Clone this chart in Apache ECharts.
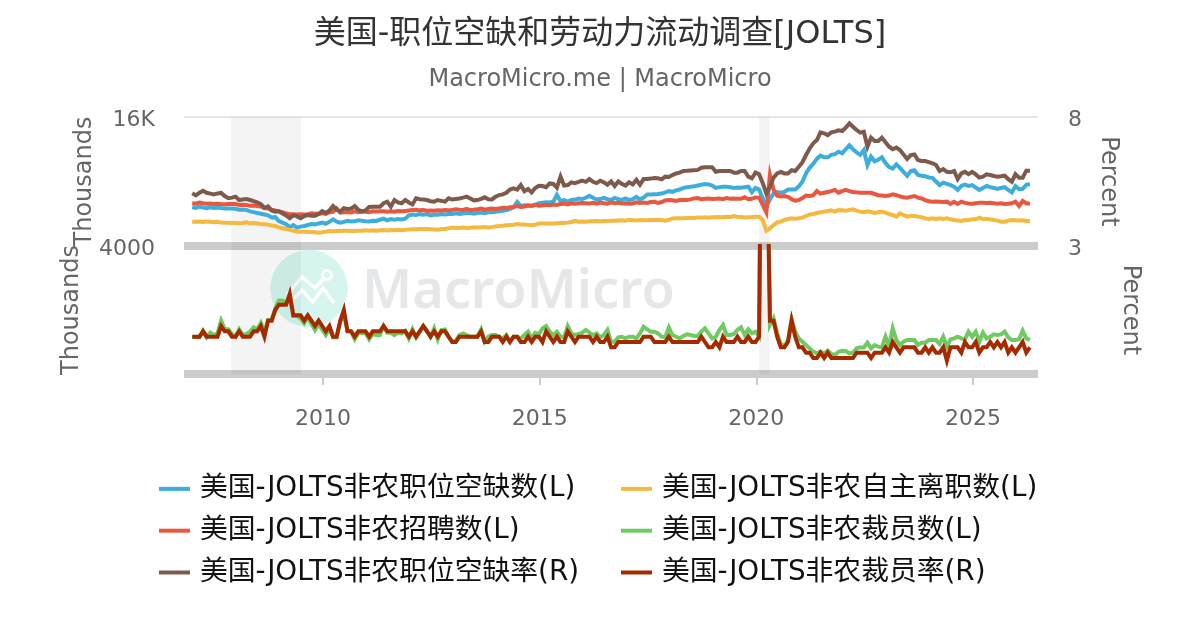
<!DOCTYPE html>
<html><head><meta charset="utf-8">
<style>html,body{margin:0;padding:0;background:#fff}#c{width:1200px;height:630px}</style>
<script src="https://cdn.jsdelivr.net/npm/echarts@6/dist/echarts.min.js"></script>
</head><body><div id="c"></div>
<script>
const titleText = '美国-职位空缺和劳动力流动调查[JOLTS]';
const subtitleText = 'MacroMicro.me | MacroMicro';
const yearTicks = [2010,2015,2020,2025];
const startYear = 2007;

const openings = [
4800,4720,4880,4780,4700,4800,4720,4760,4700,4660,4640,4640,
4620,4500,4540,4480,4300,4200,4100,4000,3900,3800,3540,3580,
3100,2900,2700,2340,2600,2280,2400,2480,2600,2720,2680,2800,
2900,2760,3000,3300,3020,2880,3000,3120,3040,3060,3180,3120,
3080,3050,3120,3100,3260,3400,3180,3340,3260,3360,3300,3380,
3800,3900,3850,3950,3880,3960,3800,3900,3880,3960,3900,3980,
3960,4060,3960,4020,4080,4100,4000,4100,4160,4060,4180,4200,
4240,4300,4380,4460,4600,4800,5450,4950,5050,5000,4960,5100,
5300,5380,5420,5400,5500,6330,5560,5700,5520,5700,5760,5880,
5820,5980,6240,5980,5760,5820,5960,5800,5700,5960,5800,5720,
5900,5700,5800,6100,5780,6000,6400,6400,6420,6440,6500,6640,
6800,6720,6900,7000,7200,7300,7340,7400,7500,7600,7680,7640,
7500,7200,7300,7340,7360,7300,7200,7240,7220,7300,7360,6680,
7200,7000,5900,4900,5800,6500,6700,6600,6700,7000,7000,7000,
7400,8000,9000,9700,10200,10800,11200,11000,11000,11300,11400,11700,
11500,12000,12500,12000,11600,11300,11900,10050,11080,10500,10700,11000,
10300,9800,9600,10130,9700,9200,8700,9300,9400,8800,8700,8650,
8500,8450,8000,7550,7850,7700,7550,7350,6950,7450,7600,7450,
7550,7250,6950,7200,7440,7300,7200,7070,7200,7300,6950,6660,
7440,7050,7100,7600,7690];

const quits = [
3020,3000,3040,2980,3040,3000,2950,3000,2920,2880,2880,2860,
2850,2820,2850,2950,2800,2840,2780,2720,2700,2650,2550,2480,
2300,2200,2100,2000,1900,1800,1780,1780,1780,1750,1700,1650,
1700,1780,1850,1830,1870,1850,1880,1900,1870,1860,1900,1880,
1940,1900,1950,1900,1960,1980,1920,1980,1960,2000,1950,2000,
2050,2080,2080,2100,2100,2110,2080,2050,2020,2100,2120,2200,
2280,2230,2260,2300,2240,2270,2330,2300,2320,2360,2300,2340,
2430,2480,2500,2560,2600,2640,2730,2680,2660,2620,2580,2640,
2780,2800,2780,2790,2800,2820,2840,2860,2900,2980,3120,3020,
3040,3020,3060,3080,3100,3060,3100,3100,3130,3120,3160,3200,
3130,3240,3200,3160,3230,3180,3200,3220,3240,3240,3230,3130,
3250,3420,3440,3450,3450,3460,3470,3480,3520,3520,3560,3520,
3560,3570,3600,3560,3620,3600,3720,3640,3600,3540,3580,3600,
3640,3640,3200,1900,2190,2600,2940,3020,3230,3350,3430,3390,
3430,3520,3720,3920,3970,4090,4180,4260,4340,4420,4260,4460,
4420,4380,4460,4540,4380,4260,4180,4300,4220,4090,4180,4260,
4130,3970,3850,3640,4050,3850,3640,3720,3720,3640,3560,3430,
3350,3430,3350,3430,3350,3430,3310,3230,3150,3100,3230,3230,
3310,3310,3520,3350,3350,3310,3230,3150,3020,3020,3150,3230,
3190,3150,3190,3100,3100];

const hires = [
5300,5250,5400,5300,5250,5280,5200,5240,5200,5180,5200,5200,
5200,5100,5120,5100,5000,5020,4950,4900,4700,4650,4500,4400,
4300,4200,4050,3950,3930,3900,3950,3920,3950,4050,4000,4000,
4050,3980,4200,4250,4670,4150,4200,4180,4150,4300,4200,4280,
4250,4180,4300,4280,4320,4300,4260,4320,4250,4350,4300,4350,
4400,4460,4500,4420,4450,4380,4400,4380,4420,4400,4450,4420,
4480,4550,4500,4480,4600,4450,4500,4550,4650,4500,4600,4650,
4600,4650,4750,4700,4800,4850,4950,4850,4900,5050,5000,5100,
5000,5020,5100,5050,5150,5100,5200,5250,5150,5280,5250,5300,
5320,5300,5280,5350,5250,5380,5300,5250,5420,5300,5350,5280,
5300,5250,5280,5420,5350,5400,5350,5450,5480,5350,5450,5650,
5700,5680,5600,5700,5750,5700,5780,5900,5950,5800,5850,5900,
5820,5850,5900,5800,5950,5850,5900,5860,5850,6040,5800,5850,
6020,6000,5090,4180,8800,7000,6240,6150,6200,6100,5800,5620,
5700,5950,6250,6200,6300,6820,6500,6600,6700,6800,6950,6600,
6800,6950,6800,6700,6650,6600,6600,6610,6600,6450,6300,6250,
6200,6250,6400,6300,6150,6050,5990,6100,6200,6000,5900,5700,
5550,5500,5520,5500,5450,5500,5210,5480,5220,5500,5350,5280,
5250,5300,5350,5350,5340,5350,5300,5250,5300,5200,5240,5300,
5500,4960,5580,5300,5250];

const layoffs = [
1859,1874,1859,2015,1859,1968,1914,1953,2250,2046,2046,1937,
1874,2046,1914,1937,1992,2093,2046,2200,1992,2265,2265,2540,
2720,2720,2656,2812,2360,2360,2305,2187,2328,2172,2031,2172,
2031,1914,2070,1859,1859,2227,2383,2015,1992,1812,1953,1968,
1953,1812,1937,1914,1914,2124,1968,1968,1914,1968,1953,2015,
1835,2046,1859,1992,2124,2015,1874,2070,1812,2031,2046,1874,
1757,1773,1914,1953,1914,1874,1874,1874,2046,1757,1874,1914,
1914,1874,1835,1914,1757,1874,1874,1835,1914,1992,1835,1968,
1930,2070,2124,1992,1914,1992,1874,1859,2124,1953,1914,1937,
1968,2031,1968,1914,1953,1859,1914,2031,1757,1757,1859,1874,
1835,1874,1874,1835,1953,2109,2046,1992,1992,1953,1874,1859,
2093,1914,1874,1835,1890,1930,1914,1890,1890,1992,2070,1953,
1835,1874,2031,2148,1914,1914,1937,2031,2093,1914,2046,1953,
1992,1880,13000,9000,2148,2305,1953,1718,1640,1796,2281,1992,
1835,1757,1679,1601,1523,1484,1523,1484,1546,1468,1445,1523,
1546,1538,1484,1500,1601,1624,1624,1734,1601,1679,1640,1624,
1874,1655,2070,1796,1679,1757,1796,1796,1796,1679,1734,1734,
1796,1796,1796,1703,1874,1640,1812,1835,1874,1835,1812,1992,
1874,1992,1757,1968,1835,1874,1929,1914,1929,1992,1859,1796,
1796,1812,2015,1835,1796];

const openingsRate = [
3.27,3.14,3.3,3.43,3.3,3.25,3.2,3.26,3.29,3.1,2.96,3.0,
3.06,2.85,2.88,2.91,2.85,2.78,2.71,2.6,2.36,2.45,2.2,2.13,
2.15,2.02,1.9,1.72,1.9,1.85,1.72,1.85,1.92,1.88,1.88,1.98,
2.16,2.05,2.2,2.48,2.25,2.13,2.34,2.3,2.32,2.48,2.25,2.15,
2.2,2.42,2.44,2.44,2.44,2.65,2.75,2.44,2.85,2.7,2.65,2.85,
2.7,2.58,2.96,2.9,2.88,2.85,2.78,2.75,2.85,2.8,2.75,2.96,
2.88,2.92,2.95,3.0,3.06,2.95,2.83,2.85,2.92,3.02,2.9,2.89,
3.05,3.16,3.2,3.3,3.5,3.58,3.5,3.78,3.4,3.53,3.33,3.6,
3.74,3.72,3.65,3.88,3.85,3.62,4.3,3.75,3.78,3.95,3.9,3.98,
4.05,3.98,4.15,3.98,3.9,4.05,3.95,3.8,4.0,3.72,4.0,3.85,
3.75,3.95,3.82,4.1,3.8,4.15,4.15,4.18,4.22,4.2,4.13,4.3,
4.28,4.4,4.5,4.55,4.65,4.66,4.68,4.7,4.72,4.85,4.88,4.88,
4.88,4.6,4.65,4.65,4.65,4.65,4.55,4.55,4.65,4.65,4.3,4.2,
4.55,4.45,3.9,3.27,3.68,4.24,4.5,4.6,4.5,4.5,4.7,4.65,
4.92,5.2,5.64,6.05,6.37,6.57,7.05,6.99,6.88,7.05,7.09,7.17,
7.13,7.34,7.6,7.4,7.19,7.03,7.09,6.16,6.72,6.51,6.51,6.72,
6.43,6.16,6.0,6.1,5.95,5.68,5.4,5.64,5.68,5.33,5.27,5.27,
5.2,5.13,5.02,4.65,4.77,4.6,4.57,4.65,4.15,4.5,4.6,4.46,
4.6,4.44,4.24,4.3,4.44,4.4,4.34,4.3,4.32,4.36,4.15,3.99,
4.46,4.24,4.24,4.67,4.67];

const layoffsRate = [
1.3,1.3,1.3,1.4,1.3,1.3,1.3,1.3,1.5,1.4,1.4,1.3,
1.3,1.4,1.3,1.3,1.3,1.4,1.4,1.5,1.3,1.6,1.6,1.8,
1.9,1.9,1.9,2.1,1.7,1.7,1.7,1.6,1.7,1.6,1.5,1.6,
1.5,1.4,1.5,1.3,1.3,1.6,1.8,1.4,1.4,1.3,1.4,1.4,
1.4,1.3,1.4,1.4,1.4,1.5,1.4,1.4,1.4,1.4,1.4,1.4,
1.3,1.4,1.3,1.4,1.5,1.4,1.3,1.4,1.3,1.4,1.4,1.3,
1.2,1.2,1.3,1.3,1.3,1.3,1.3,1.3,1.4,1.2,1.2,1.3,
1.3,1.3,1.2,1.3,1.2,1.3,1.3,1.2,1.2,1.3,1.2,1.3,
1.3,1.2,1.4,1.3,1.2,1.3,1.2,1.2,1.4,1.3,1.2,1.3,
1.3,1.3,1.3,1.2,1.3,1.2,1.2,1.3,1.1,1.1,1.2,1.2,
1.2,1.2,1.2,1.2,1.2,1.3,1.3,1.3,1.2,1.2,1.2,1.2,
1.3,1.2,1.2,1.2,1.2,1.2,1.2,1.2,1.2,1.3,1.2,1.1,
1.1,1.2,1.1,1.3,1.2,1.2,1.2,1.3,1.2,1.2,1.3,1.2,
1.2,1.3,8.9,5.6,1.6,1.6,1.3,1.1,1.1,1.2,1.6,1.3,
1.1,1.1,1.0,1.0,0.9,0.9,1.0,0.9,1.0,0.9,0.9,0.9,
0.9,0.9,0.9,0.9,1.0,1.0,1.0,1.0,0.9,1.0,1.0,1.0,
1.1,1.0,1.2,1.1,1.0,1.1,1.1,1.1,1.1,1.0,1.0,1.1,
1.0,1.1,1.0,1.0,1.1,0.85,1.1,1.1,1.1,1.0,1.2,1.1,
1.1,1.2,1.0,1.1,1.1,1.2,1.1,1.2,1.1,1.2,1.0,1.1,
1.0,1.1,1.2,1.0,1.1];

const recessions = [[2007.88,2009.49],[2020.06,2020.31]];

const seriesNames = ['美国-JOLTS非农职位空缺数(L)','美国-JOLTS非农自主离职数(L)','美国-JOLTS非农招聘数(L)','美国-JOLTS非农裁员数(L)','美国-JOLTS非农职位空缺率(R)','美国-JOLTS非农裁员率(R)'];
const seriesColors = ['#3DAEDB','#F6B93F','#E9573F','#70CA63','#7E5A4C','#A52A00'];

const dates = openings.map((_, i) => startYear + i / 12 - 0.02);
const pair = vals => vals.map((v, i) => [dates[i], v]);
const bands = {silent:true, itemStyle:{color:'rgba(0,0,0,0.045)'}, data:recessions.map(r => [{xAxis:r[0]},{xAxis:r[1]}])};
const line = (idx, vals, xi, yi, extra) => Object.assign({
  name:seriesNames[idx], type:'line', data:pair(vals), xAxisIndex:xi, yAxisIndex:yi,
  showSymbol:false, symbol:'none', lineStyle:{width:4,join:'miter',cap:'butt',color:seriesColors[idx]}, itemStyle:{color:seriesColors[idx]},
  emphasis:{disabled:true}
}, extra || {});

const font = '"DejaVu Sans","Noto Sans CJK SC",sans-serif';
const xMin = 2006.79, xMax = 2026.5;
const legendBase = {orient:'vertical', top:470, itemWidth:31, itemHeight:4, itemGap:14, icon:'rect',
  textStyle:{fontFamily:font,fontSize:27.8,color:'#111',padding:[0,0,0,5]}, selectedMode:false};
const axisLine = {show:true,lineStyle:{color:'#ccc',width:8,cap:'butt'}};
const yLabel = {fontFamily:font,fontSize:22,color:'#666',verticalAlign:'top',lineHeight:7};

const option = {
  animation:false, backgroundColor:'#fff',
  textStyle:{fontFamily:font},
  title:[
    {text:titleText,left:'center',top:14,textStyle:{fontFamily:font,fontSize:32,fontWeight:'normal',color:'#333'}},
    {text:subtitleText,left:'center',top:63,textStyle:{fontFamily:font,fontSize:24,fontWeight:'normal',color:'#666'}}
  ],
  legend:[
    Object.assign({},legendBase,{left:154,data:[seriesNames[0],seriesNames[2],seriesNames[4]]}),
    Object.assign({},legendBase,{left:616,data:[seriesNames[1],seriesNames[3],seriesNames[5]]})
  ],
  grid:[
    {left:184,right:162,top:117,height:129},
    {left:184,right:162,top:246,height:128}
  ],
  xAxis:[
    {type:'value',gridIndex:0,min:xMin,max:xMax,axisLine:axisLine,axisTick:{show:false},axisLabel:{show:false},splitLine:{show:false}},
    {type:'value',gridIndex:1,min:xMin,max:xMax,axisLine:axisLine,
      axisTick:{show:true,length:11,customValues:yearTicks,lineStyle:{color:'#ccc',width:2}},
      axisLabel:{customValues:yearTicks,margin:34,fontFamily:font,fontSize:22,color:'#666',formatter:v=>String(v)},
      splitLine:{show:false}}
  ],
  yAxis:[
    {type:'value',gridIndex:0,position:'left',min:0,max:16000,interval:16000,name:'Thousands',nameLocation:'middle',nameGap:87,nameTextStyle:{fontFamily:font,fontSize:24,color:'#666'},
      axisLine:{show:false},axisTick:{show:false},splitLine:{show:true,lineStyle:{color:'#e6e6e6',width:2}},
      axisLabel:Object.assign({margin:29,formatter:v=>v===16000?'16K':''},yLabel)},
    {type:'value',gridIndex:0,position:'right',min:0,max:8,interval:8,name:'Percent',nameLocation:'middle',nameRotate:-90,nameGap:58,nameTextStyle:{fontFamily:font,fontSize:24,color:'#666'},
      axisLine:{show:false},axisTick:{show:false},splitLine:{show:false},
      axisLabel:Object.assign({margin:30,formatter:v=>v===8?'8':''},yLabel)},
    {type:'value',gridIndex:1,position:'left',min:1000,max:4000,interval:1000,name:'Thousands',nameLocation:'middle',nameGap:100,nameTextStyle:{fontFamily:font,fontSize:24,color:'#666'},
      axisLine:{show:false},axisTick:{show:false},splitLine:{show:false},
      axisLabel:Object.assign({margin:29,formatter:v=>v===4000?'4000':''},yLabel)},
    {type:'value',gridIndex:1,position:'right',min:0.6,max:3,interval:0.6,name:'Percent',nameLocation:'middle',nameRotate:-90,nameGap:80,nameTextStyle:{fontFamily:font,fontSize:24,color:'#666'},
      axisLine:{show:false},axisTick:{show:false},splitLine:{show:false},
      axisLabel:Object.assign({margin:30,formatter:v=>Math.abs(v-3)<1e-6?'3':''},yLabel)}
  ],
  graphic:[
    {type:'circle',z:1,shape:{cx:309,cy:288.5,r:38.8},style:{fill:'#d6f5ef'},silent:true},
    {type:'polyline',z:1,shape:{points:[[287,295],[302,277],[315,288],[327,275]]},style:{stroke:'#fff',lineWidth:3.5,fill:null},silent:true},
    {type:'polyline',z:1,shape:{points:[[290,303],[302,290],[313,302],[323,288],[334,303]]},style:{stroke:'#fff',lineWidth:3.5,fill:null},silent:true},
    {type:'circle',z:1,shape:{cx:327,cy:275,r:4.5},style:{fill:'#d6f5ef',stroke:'#fff',lineWidth:3},silent:true},
    {type:'text',z:1,x:362,y:266,style:{text:'MacroMicro',font:'600 54px "Noto Sans",sans-serif',fill:'#e6e7e9'},silent:true}
  ],
  series:[
    line(0,openings,0,0,{markArea:bands}),
    line(1,quits,0,0),
    line(2,hires,0,0),
    line(3,layoffs,1,2,{markArea:bands}),
    line(4,openingsRate,0,1),
    line(5,layoffsRate,1,3)
  ]
};
echarts.init(document.getElementById('c'),null,{renderer:'canvas'}).setOption(option);
</script></body></html>
